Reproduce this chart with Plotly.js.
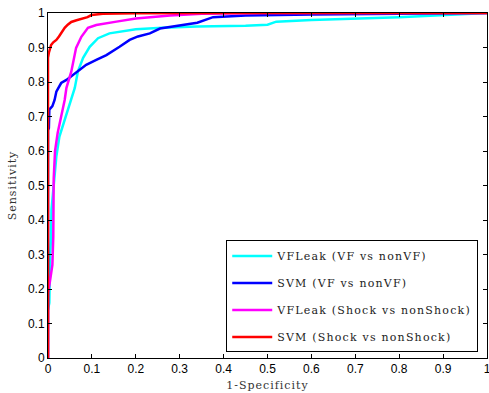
<!DOCTYPE html>
<html>
<head>
<meta charset="utf-8">
<script src="https://cdn.plot.ly/plotly-3.0.1.min.js"></script>
<style>
html,body{margin:0;padding:0;background:#fff;}
#chart{width:489px;height:393px;}
.legendtext {letter-spacing: 1.2px;}
.xtitle, .ytitle {letter-spacing: 1px;}
</style>
</head>
<body>
<div id="chart"></div>
<script>
var names = ["VFLeak (VF vs nonVF)", "SVM (VF vs nonVF)", "VFLeak (Shock vs nonShock)", "SVM (Shock vs nonShock)"];
var colors = ["#00FFFF", "#0000FF", "#FF00FF", "#FF0000"];

var cyanX = [0, 0.003, 0.005, 0.007, 0.008, 0.013, 0.019, 0.026, 0.038, 0.053, 0.061, 0.068, 0.08, 0.095, 0.114, 0.14, 0.171, 0.2, 0.26, 0.339, 0.45, 0.5, 0.52, 0.6, 0.8, 0.9, 1];
var cyanY = [0.14, 0.16, 0.3, 0.35, 0.43, 0.508, 0.584, 0.642, 0.69, 0.748, 0.783, 0.83, 0.87, 0.902, 0.927, 0.941, 0.948, 0.953, 0.957, 0.961, 0.963, 0.966, 0.975, 0.98, 0.988, 0.993, 1];

var blueX = [0, 0, 0.002, 0.003, 0.01, 0.015, 0.019, 0.03, 0.042, 0.057, 0.072, 0.087, 0.11, 0.133, 0.163, 0.186, 0.205, 0.232, 0.255, 0.3, 0.34, 0.376, 0.45, 0.6, 0.87, 1];
var blueY = [0, 0.66, 0.667, 0.72, 0.73, 0.748, 0.772, 0.797, 0.806, 0.82, 0.835, 0.85, 0.864, 0.878, 0.902, 0.922, 0.932, 0.941, 0.955, 0.965, 0.972, 0.988, 0.993, 0.996, 0.999, 1];

var magX = [0, 0, 0.003, 0.01, 0.012, 0.012, 0.013, 0.016, 0.022, 0.03, 0.038, 0.042, 0.053, 0.064, 0.076, 0.091, 0.11, 0.156, 0.2, 0.278, 0.35, 0.5, 1];
var magY = [0, 0.19, 0.21, 0.27, 0.35, 0.45, 0.52, 0.6, 0.652, 0.7, 0.748, 0.783, 0.83, 0.899, 0.931, 0.957, 0.965, 0.975, 0.984, 0.993, 0.998, 1, 1];

var redX = [0, 0, 0.002, 0.007, 0.012, 0.019, 0.025, 0.03, 0.038, 0.045, 0.053, 0.065, 0.079, 0.09, 0.099, 0.125, 0.2, 0.4, 1];
var redY = [0, 0.87, 0.885, 0.907, 0.915, 0.922, 0.932, 0.942, 0.957, 0.966, 0.974, 0.979, 0.983, 0.988, 0.994, 0.998, 0.999, 1, 1];

var tickVals = [0, 0.1, 0.2, 0.3, 0.4, 0.5, 0.6, 0.7, 0.8, 0.9, 1];
var tickText = ["0", "0.1", "0.2", "0.3", "0.4", "0.5", "0.6", "0.7", "0.8", "0.9", "1"];

var xs = [cyanX, blueX, magX, redX];
var ys = [cyanY, blueY, magY, redY];
var data = [];
for (var i = 0; i < 4; i++) {
  data.push({
    x: xs[i], y: ys[i], type: "scatter", mode: "lines",
    name: names[i], legendgroup: "g" + i,
    line: {color: colors[i], width: 2.5}
  });
}

var serif = "DejaVu Serif, Liberation Serif, serif";
var sans = "Liberation Sans, Arial, sans-serif";
var axisCommon = {
  range: [0, 1], tickvals: tickVals, ticktext: tickText,
  ticks: "inside", ticklen: 4, tickcolor: "#000", tickwidth: 1,
  showline: true, linecolor: "#000", linewidth: 1, mirror: "allticks",
  showgrid: false, zeroline: false, ticklabeloverflow: "allow",
  tickfont: {family: sans, size: 12, color: "#000"}
};

var layout = {
  width: 489, height: 393,
  margin: {l: 48, r: 2, t: 13, b: 35},
  paper_bgcolor: "#fff", plot_bgcolor: "#fff",
  showlegend: true,
  xaxis: Object.assign({}, axisCommon, {
    title: {text: "1-Specificity", font: {family: serif, size: 11, color: "#333"}, standoff: 5}
  }),
  yaxis: Object.assign({}, axisCommon, {
    title: {text: "Sensitivity", font: {family: serif, size: 11, color: "#333"}, standoff: 9}
  }),
  legend: {
    x: 0.406, y: 0.016, xanchor: "left", yanchor: "bottom",
    bgcolor: "#fff", bordercolor: "#000", borderwidth: 1,
    font: {family: serif, size: 11, color: "#222"},
    itemwidth: 40,
    traceorder: "grouped", tracegroupgap: 8
  }
};

Plotly.newPlot("chart", data, layout, {displayModeBar: false, staticPlot: true});
</script>
</body>
</html>
